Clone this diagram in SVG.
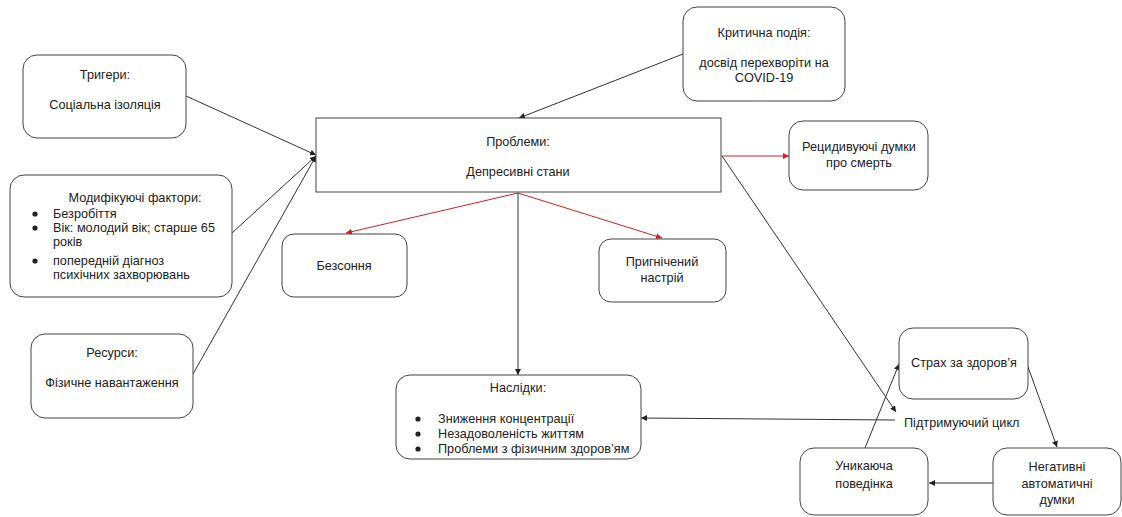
<svg xmlns="http://www.w3.org/2000/svg" width="1122" height="517" viewBox="0 0 1122 517">
<style>
.box{fill:#fff;stroke:#444;stroke-width:1}
.t{font-family:"Liberation Sans",Arial,sans-serif;font-size:12.7px;fill:#222}
.c{text-anchor:middle}
.ln{fill:none;stroke:#333;stroke-width:1}
.rd{fill:none;stroke:#d42020;stroke-width:1}
</style>
<defs>
<marker id="ab" viewBox="0 0 10 10" refX="10" refY="5" markerWidth="6" markerHeight="6" markerUnits="userSpaceOnUse" orient="auto"><path d="M0,0L10,5L0,10z" fill="#222"/></marker>
<marker id="ar" viewBox="0 0 10 10" refX="10" refY="5" markerWidth="6" markerHeight="6" markerUnits="userSpaceOnUse" orient="auto"><path d="M0,0L10,5L0,10z" fill="#d42020"/></marker>
</defs>
<rect width="1122" height="517" fill="#fff"/>
<g id="connectors">
<line class="ln" x1="186" y1="96" x2="316" y2="155" marker-end="url(#ab)"/>
<line class="ln" x1="232" y1="233" x2="316" y2="156" marker-end="url(#ab)"/>
<line class="ln" x1="193" y1="374" x2="316" y2="156" marker-end="url(#ab)"/>
<line class="ln" x1="683" y1="54" x2="519" y2="118" marker-end="url(#ab)"/>
<line class="rd" x1="722" y1="156" x2="789" y2="156" marker-end="url(#ar)"/>
<line class="rd" x1="518" y1="193" x2="346" y2="233" marker-end="url(#ar)"/>
<line class="rd" x1="518" y1="193" x2="662" y2="238" marker-end="url(#ar)"/>
<line class="ln" x1="518" y1="193" x2="518" y2="375" marker-end="url(#ab)"/>
<line class="ln" x1="722" y1="156" x2="896" y2="412" marker-end="url(#ab)"/>
<line class="ln" x1="895" y1="420" x2="641" y2="418" marker-end="url(#ab)"/>
<line class="ln" x1="1028" y1="367" x2="1057" y2="447" marker-end="url(#ab)"/>
<line class="ln" x1="993" y1="483" x2="929" y2="483" marker-end="url(#ab)"/>
<line class="ln" x1="865" y1="448" x2="899" y2="364" marker-end="url(#ab)"/>
</g>
<g id="triggers">
<rect class="box" x="23" y="55" width="163" height="83" rx="14"/>
<text class="t c" x="105" y="79">Тригери:</text>
<text class="t c" x="105" y="109">Соціальна ізоляція</text>
</g>
<g id="modifiers">
<rect class="box" x="10" y="175" width="222" height="122" rx="14"/>
<text class="t c" x="135" y="202">Модифікуючі фактори:</text>
<g class="t">
<circle cx="35" cy="214" r="2.6" fill="#222"/>
<text x="53" y="218">Безробіття</text>
<circle cx="35" cy="228" r="2.6" fill="#222"/>
<text x="53" y="232">Вік: молодий вік; старше 65</text>
<text x="53" y="246">років</text>
<circle cx="35" cy="261" r="2.6" fill="#222"/>
<text x="53" y="265">попередній діагноз</text>
<text x="53" y="279">психічних захворювань</text>
</g>
</g>
<g id="resources">
<rect class="box" x="31" y="334" width="162" height="84" rx="14"/>
<text class="t c" x="112" y="357">Ресурси:</text>
<text class="t c" x="112" y="387">Фізичне навантаження</text>
</g>
<g id="critical">
<rect class="box" x="683" y="7" width="162" height="94" rx="14"/>
<text class="t c" x="764" y="37">Критична подія:</text>
<text class="t c" x="764" y="67">досвід перехворіти на</text>
<text class="t c" x="764" y="82">COVID-19</text>
</g>
<g id="problems">
<rect class="box" x="316" y="118" width="405" height="74"/>
<text class="t c" x="518" y="146">Проблеми:</text>
<text class="t c" x="518" y="176">Депресивні стани</text>
</g>
<g id="death-thoughts">
<rect class="box" x="789" y="121" width="139" height="69" rx="14"/>
<text class="t c" x="859" y="151">Рецидивуючі думки</text>
<text class="t c" x="859" y="167">про смерть</text>
</g>
<g id="insomnia">
<rect class="box" x="282" y="234" width="125" height="63" rx="12"/>
<text class="t c" x="344" y="270">Безсоння</text>
</g>
<g id="mood">
<rect class="box" x="599" y="239" width="127" height="63" rx="12"/>
<text class="t c" x="662" y="266">Пригнічений</text>
<text class="t c" x="662" y="282">настрій</text>
</g>
<g id="consequences">
<rect class="box" x="396" y="375" width="245" height="84" rx="14"/>
<text class="t c" x="518" y="392">Наслідки:</text>
<g class="t">
<circle cx="418" cy="419" r="2.6" fill="#222"/>
<text x="438" y="423">Зниження концентрації</text>
<circle cx="418" cy="434" r="2.6" fill="#222"/>
<text x="438" y="438">Незадоволеність життям</text>
<circle cx="418" cy="449" r="2.6" fill="#222"/>
<text x="438" y="453">Проблеми з фізичним здоров’ям</text>
</g>
</g>
<g id="fear">
<rect class="box" x="899" y="328" width="129" height="71" rx="14"/>
<text class="t c" x="964" y="367">Страх за здоров’я</text>
</g>
<g id="cycle-label">
<text class="t" x="904" y="427">Підтримуючий цикл</text>
</g>
<g id="avoidance">
<rect class="box" x="800" y="448" width="128" height="67" rx="14"/>
<text class="t c" x="864" y="470">Уникаюча</text>
<text class="t c" x="864" y="488">поведінка</text>
</g>
<g id="negative-thoughts">
<rect class="box" x="993" y="448" width="128" height="67" rx="14"/>
<text class="t c" x="1057" y="471">Негативні</text>
<text class="t c" x="1057" y="488">автоматичні</text>
<text class="t c" x="1057" y="504">думки</text>
</g>
</svg>
